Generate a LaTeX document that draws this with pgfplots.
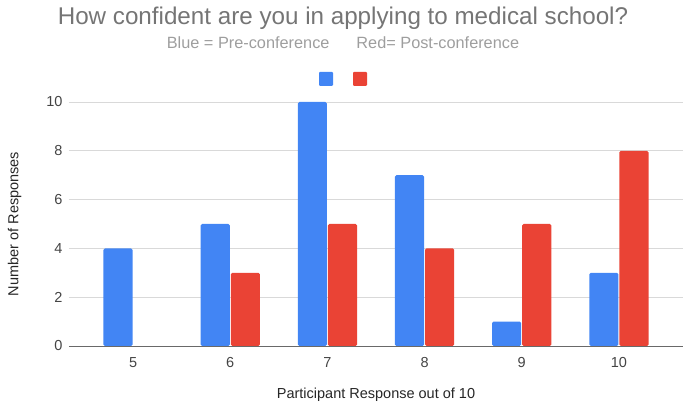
\documentclass[border=0pt]{standalone}
\usepackage{pgfplots}
\pgfplotsset{compat=1.18}
\usepackage{fontspec}
\setmainfont{Liberation Sans}
\definecolor{gblue}{HTML}{4285F4}
\definecolor{gred}{HTML}{EA4335}
\definecolor{ggrid}{HTML}{D9D9D9}
\definecolor{gtitle}{HTML}{757575}
\definecolor{gsub}{HTML}{9E9E9E}
\definecolor{gtick}{HTML}{444444}
\begin{document}
\begin{tikzpicture}
\useasboundingbox (-69pt,-60pt) rectangle (616pt,346pt);
\begin{axis}[
  at={(0pt,0pt)}, anchor=south west,
  scale only axis, width=614pt, height=244pt,
  xmin=-0.66, xmax=5.66, ymin=0, ymax=10,
  axis x line*=bottom, axis y line*=left,
  x axis line style={draw=gtick!80, line width=0.8pt, -},
  y axis line style={draw=none},
  ytick={0,2,4,6,8,10},
  ymajorgrids, grid style={ggrid, line width=0.7pt},
  major tick length=0pt,
  xtick={0,1,2,3,4,5},
  xticklabels={5,6,7,8,9,10},
  tick label style={font=\fontsize{14.5}{17}\selectfont, text=gtick},
  /pgf/number format/assume math mode=true,
  xticklabel style={yshift=-8pt},
  yticklabel style={xshift=-3pt},
  ybar, bar width=0.30,
  xlabel={Participant Response out of 10},
  xlabel style={font=\fontsize{14.5}{17}\selectfont, text=black!85, yshift=-13pt},
  ylabel={Number of Responses},
  ylabel style={font=\fontsize{14.5}{17}\selectfont, text=black!85, yshift=18pt},
  clip=false,
  legend style={at={(0.5,1.0)}, anchor=south, yshift=16pt, xshift=-31pt, draw=none, fill=none,
    legend columns=2, /tikz/every even column/.append style={column sep=16pt},
    inner sep=0pt},
  legend image code/.code={\fill[#1, rounded corners=1pt] (0pt,-7pt) rectangle (14pt,7pt);},
]
\addplot[fill=gblue, draw=none, bar shift=-0.155, rounded corners=1.5pt]
  coordinates {(0,4) (1,5) (2,10) (3,7) (4,1) (5,3)};
\addlegendentry{\mbox{}}
\addplot[fill=gred, draw=none, bar shift=0.155, rounded corners=1.5pt]
  coordinates {(1,3) (2,5) (3,4) (4,5) (5,8)};
\addlegendentry{\mbox{}}
\end{axis}
\node[text=gtitle, font=\fontsize{24.2}{28}\selectfont] at (274pt,328pt) {How confident are you in applying to medical school?};
\node[text=gsub, font=\fontsize{16.3}{19}\selectfont] at (274pt,303pt) {Blue = Pre-conference\hspace{27pt}Red= Post-conference};
\end{tikzpicture}
\end{document}
